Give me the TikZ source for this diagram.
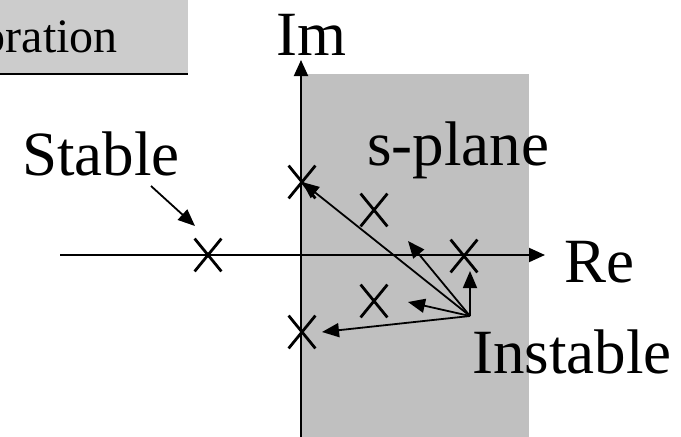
\documentclass[tikz,border=0pt]{standalone}
\usepackage{fontspec}
\setmainfont{Liberation Serif}
\usetikzlibrary{arrows.meta,shapes.misc}
\definecolor{boxgray}{HTML}{CCCCCC}
\definecolor{planegray}{HTML}{C0C0C0}
\begin{document}
\begin{tikzpicture}[x=1pt,y=-1pt,
  axis/.style={line width=2pt,-{Triangle[length=16pt,width=14pt]}},
  vec/.style={line width=1.8pt,-{Triangle[length=17pt,width=14pt]}},
  big/.style={font=\fontsize{63}{70}\selectfont, inner sep=0pt, anchor=base west},
  pole/.style={draw, cross out, line width=2.8pt, minimum width=24pt, minimum height=30pt, inner sep=0pt}
]
\useasboundingbox (0,0) rectangle (681,437);
\clip (0,0) rectangle (681,437);
% title box
\fill[boxgray] (0,0) rectangle (188,74);
\draw[line width=2.5pt] (0,74) -- (188,74);
\node[font=\fontsize{48}{56}\selectfont, inner sep=0pt, anchor=base east] (title) at (118,52) {oration};
% s-plane region
\fill[planegray] (302,74) rectangle (529,437);
% axes
\coordinate (imb) at (301,437);
\coordinate (imt) at (301,60);
\coordinate (rel) at (60,255);
\coordinate (rer) at (545,255);
\draw[axis] (imb) -- (imt);
\draw[axis] (rel) -- (rer);
% labels
\node[big] (im) at (276,55) {Im};
\node[big] (re) at (564,282) {Re};
\node[big] (stable) at (22,175) {Stable};
\node[big] (splane) at (367,165) {s-plane};
\node[big] (instable) at (472,373) {Instable};
% poles
\node[pole] (p1) at (302,182) {};
\node[pole] (p2) at (374,210) {};
\node[pole] (p3) at (464,256) {};
\node[pole] (p4) at (374,301) {};
\node[pole] (p5) at (302,332) {};
\node[pole] (ps) at (208,255) {};
% fan of vectors
\coordinate (o) at (470,316);
\coordinate (t2) at (408,241);
\coordinate (t3) at (470,271);
\coordinate (t4) at (408,302);
\coordinate (t5) at (322,332);
\draw[vec] (o) -- (p1.center);
\draw[vec] (o) -- (t2);
\draw[vec] (o) -- (t3);
\draw[vec] (o) -- (t4);
\draw[vec] (o) -- (t5);
% stable pointer
\coordinate (s0) at (151,186);
\coordinate (s1) at (195,226);
\draw[vec] (s0) -- (s1);
\end{tikzpicture}
\end{document}
